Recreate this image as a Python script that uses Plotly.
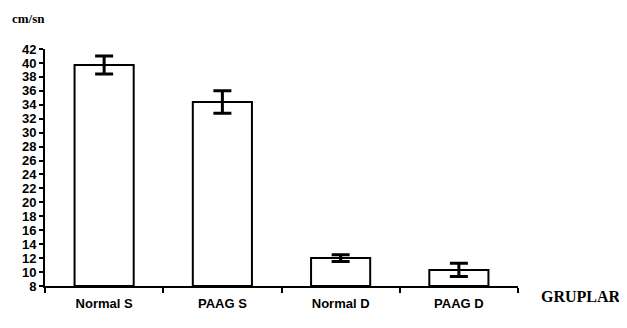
import plotly.graph_objects as go

groups = ["Normal S", "PAAG S", "Normal D", "PAAG D"]
means = [39.7, 34.4, 12.0, 10.3]
errors = [1.3, 1.6, 0.5, 0.95]
y_ticks = list(range(8, 43, 2))

fig = go.Figure()
fig.add_trace(go.Bar(
    x=groups, y=[m - 8 for m in means], base=8,
    width=0.5,
    marker=dict(color="white", line=dict(color="black", width=2)),
    error_y=dict(type="data", array=errors, visible=True, color="black",
                 thickness=3, width=9),
))

fig.update_layout(
    width=619, height=320,
    margin=dict(l=37, r=109, t=41, b=42),
    paper_bgcolor="white", plot_bgcolor="white",
    showlegend=False,
    xaxis=dict(type="category", range=[-0.5, 3.5], tickson="boundaries",
               ticks="outside", ticklen=5, tickwidth=2, tickcolor="black",
               ticklabelstandoff=4,
               showline=True, linecolor="black", linewidth=2, showgrid=False,
               tickfont=dict(family="Liberation Sans, Arial", size=13, color="black", weight="bold")),
    yaxis=dict(range=[8, 42], tickvals=y_ticks, ticktext=[str(v) for v in y_ticks],
               ticks="outside", ticklen=4, tickwidth=2, tickcolor="black",
               showline=True, linecolor="black", linewidth=2, showgrid=False, zeroline=False,
               tickfont=dict(family="Liberation Sans, Arial", size=13, color="black", weight="bold")),
    annotations=[
        dict(text="<b>cm/sn</b>", xref="paper", yref="paper", x=-0.074, y=1.13,
             xanchor="left", yanchor="middle", showarrow=False,
             font=dict(family="Liberation Serif, Times New Roman", size=13, color="black")),
        dict(text="<b>GRUPLAR</b>", xref="paper", yref="paper", x=1.045, y=-0.046,
             xanchor="left", yanchor="middle", showarrow=False,
             font=dict(family="Liberation Serif, Times New Roman", size=16, color="black")),
    ],
)

fig.write_html("out.html")
